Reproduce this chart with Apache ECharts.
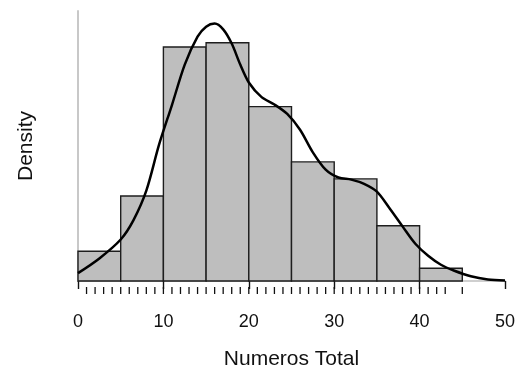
<!DOCTYPE html>
<html>
<head>
<meta charset="utf-8">
<script src="https://cdn.jsdelivr.net/npm/echarts@6/dist/echarts.min.js"></script>
<style>
  html, body { margin: 0; padding: 0; background: #fff; }
  #root { width: 516px; height: 369px; }
</style>
</head>
<body>
<div id="root"></div>
<script>
// histogram bins (width 5) and counts
const binEdges = [0, 5, 10, 15, 20, 25, 30, 35, 40, 45];
const binCounts = [7, 20, 55, 56, 41, 28, 24, 13, 3];

// kernel density curve, [x, density]
const curveX = [0, 2.5, 5, 6.5, 8, 9.5, 11, 12.5, 14, 15, 16, 17, 18, 19, 20, 21.5, 23, 24.5, 26, 27.5, 29, 30.5, 32, 33.5, 35, 36.5, 38, 39.5, 41, 42.5, 44, 46, 48, 50];
const curveY = [0.0015, 0.0043, 0.0079, 0.0116, 0.0172, 0.0260, 0.0335, 0.0412, 0.0465, 0.0484, 0.0490, 0.0479, 0.0452, 0.0412, 0.0378, 0.0350, 0.0336, 0.0318, 0.0288, 0.0245, 0.0212, 0.0197, 0.0193, 0.0185, 0.0170, 0.0138, 0.0104, 0.0071, 0.0048, 0.0031, 0.0020, 0.0009, 0.0003, 0.0001];

// rug marks (distinct observed values)
const rugValues = [];
for (let v = 1; v <= 43; v++) rugValues.push(v);
rugValues.push(45);

const xTicks = [0, 10, 20, 30, 40, 50];

const total = binCounts.reduce((a, b) => a + b, 0);
const histData = binCounts.map((c, i) => [binEdges[i], binEdges[i + 1], c / (total * 5)]);
const curveData = curveX.map((x, i) => [x, curveY[i]]);

const font = 'Liberation Sans, Arial, sans-serif';
const chart = echarts.init(document.getElementById('root'));

chart.setOption({
  animation: false,
  grid: { left: 78, right: 11, top: 11, bottom: 88, containLabel: false, outerBoundsMode: 'none' },
  xAxis: {
    type: 'value',
    min: xTicks[0],
    max: xTicks[xTicks.length - 1],
    interval: 10,
    offset: 14,
    name: 'Numeros Total',
    nameLocation: 'middle',
    nameGap: 54,
    nameTextStyle: { fontFamily: font, fontSize: 21, color: '#111' },
    axisLine: { show: true, lineStyle: { color: '#cfcfcf', width: 2 } },
    axisTick: { show: true, length: 8, lineStyle: { color: '#111', width: 1.4 } },
    axisLabel: { fontFamily: font, fontSize: 18, color: '#111', margin: 18 },
    splitLine: { show: false }
  },
  yAxis: {
    type: 'value',
    min: 0,
    max: 0.0514,
    offset: 21,
    name: 'Density',
    nameLocation: 'middle',
    nameGap: 20,
    nameTextStyle: { fontFamily: font, fontSize: 21, color: '#111' },
    axisLine: { show: true, lineStyle: { color: '#c8c8c8', width: 2 } },
    axisTick: { show: false },
    axisLabel: { show: false },
    splitLine: { show: false }
  },
  series: [
    {
      type: 'custom',
      data: histData,
      renderItem: function (params, api) {
        const p0 = api.coord([api.value(0), 0]);
        const p1 = api.coord([api.value(1), api.value(2)]);
        return {
          type: 'rect',
          shape: { x: p0[0], y: p1[1], width: p1[0] - p0[0], height: p0[1] - p1[1] },
          style: { fill: '#bebebe', stroke: '#1e1e1e', lineWidth: 1.4 }
        };
      },
      z: 2
    },
    {
      type: 'custom',
      data: rugValues.map(v => [v]),
      clip: false,
      renderItem: function (params, api) {
        const p = api.coord([api.value(0), 0]);
        return {
          type: 'line',
          shape: { x1: p[0], y1: p[1] + 6, x2: p[0], y2: p[1] + 13 },
          style: { stroke: '#111', lineWidth: 1.3 }
        };
      },
      z: 3
    },
    {
      type: 'line',
      data: curveData,
      smooth: 0.3,
      showSymbol: false,
      lineStyle: { color: '#000', width: 2.5 },
      z: 4
    }
  ]
});
</script>
</body>
</html>
